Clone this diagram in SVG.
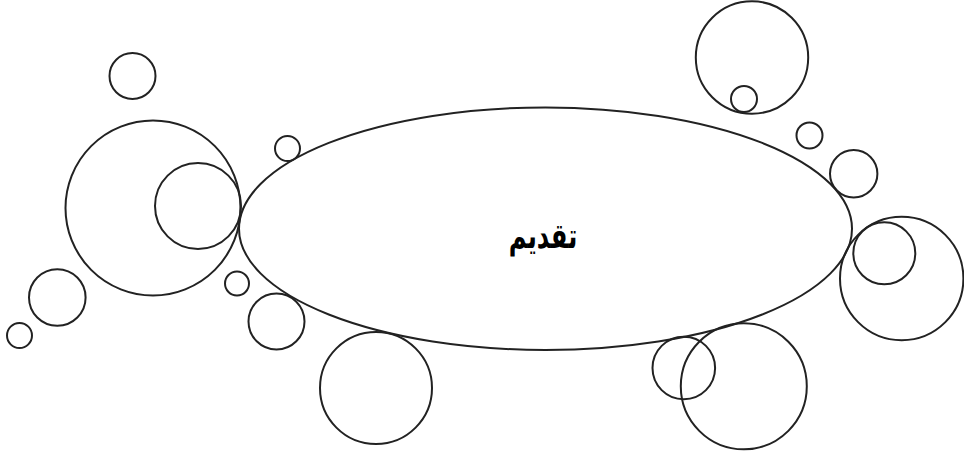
<svg xmlns="http://www.w3.org/2000/svg" width="964" height="454" viewBox="0 0 964 454">
<style>
.s{fill:none;stroke:#222;stroke-width:2}
.t{font-family:"DejaVu Sans","Noto Sans",sans-serif;font-weight:bold;font-size:26px;fill:#000;text-anchor:middle}
</style>
<rect width="964" height="454" fill="#fff"/>
<g id="bubbles">
<circle class="s" cx="132.5" cy="76" r="23"/>
<circle class="s" cx="153" cy="208" r="87.5"/>
<circle class="s" cx="198" cy="206" r="43"/>
<circle class="s" cx="287.5" cy="148.5" r="12.5"/>
<circle class="s" cx="237" cy="283.5" r="12"/>
<circle class="s" cx="276.5" cy="321.5" r="28"/>
<circle class="s" cx="57.3" cy="297.5" r="28.3"/>
<circle class="s" cx="19.5" cy="335.5" r="12.5"/>
<circle class="s" cx="376" cy="388" r="56"/>
<circle class="s" cx="752" cy="57.5" r="56.2"/>
<circle class="s" cx="744" cy="99" r="13"/>
<circle class="s" cx="809.5" cy="135.5" r="13"/>
<circle class="s" cx="853.7" cy="173.7" r="23.7"/>
<circle class="s" cx="901.7" cy="278.5" r="61.7"/>
<circle class="s" cx="884.3" cy="253.3" r="31"/>
<circle class="s" cx="683.8" cy="368" r="31.3"/>
<circle class="s" cx="743.8" cy="386.3" r="63"/>
</g>
<g id="node-main">
<ellipse class="s" cx="545.5" cy="228.7" rx="306.5" ry="121.3"/>
<text class="t" transform="translate(543,248) scale(0.93,1.35)" x="0" y="0">تقديم</text>
</g>
</svg>
